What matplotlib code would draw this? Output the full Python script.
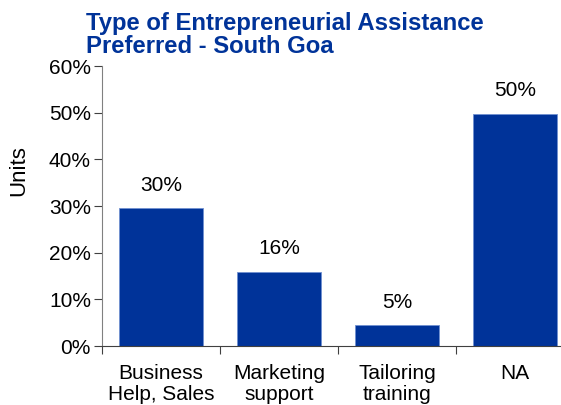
import matplotlib.pyplot as plt
from matplotlib.ticker import FuncFormatter

plt.rcParams['font.family'] = ['Liberation Sans', 'DejaVu Sans']

categories = ['Business\nHelp, Sales', 'Marketing\nsupport', 'Tailoring\ntraining', 'NA']
values = [29.5, 15.9, 4.5, 49.8]
labels = ['30%', '16%', '5%', '50%']

fig = plt.figure(figsize=(5.61, 4.05), dpi=100)
ax = fig.add_axes([102 / 561, 1 - 346 / 405, 472 / 561, 280 / 405])

x = range(len(categories))
ax.bar(x, values, width=0.71, color='#003399', edgecolor='#7090d0', linewidth=0.6)

for i, v in enumerate(values):
    ax.text(i, v + 4.9, labels[i], ha='center', va='center', fontsize=15)

ax.set_ylim(0, 60)
ax.set_xlim(-0.5, 3.5)
ax.set_yticks(range(0, 61, 10))
ax.yaxis.set_major_formatter(FuncFormatter(lambda v, p: '%d%%' % v))

# boundary ticks without labels, category labels on minor ticks
ax.set_xticks([-0.5, 0.5, 1.5, 2.5, 3.5])
ax.set_xticklabels([])
ax.set_xticks(list(x), minor=True)
ax.set_xticklabels(categories, minor=True, fontsize=15, linespacing=1.15)
ax.tick_params(axis='x', which='minor', length=0, pad=13)
ax.tick_params(axis='x', which='major', length=6, color='#404040', direction='out')
ax.tick_params(axis='y', length=6, color='#404040', labelsize=15, pad=2)

for s in ['top', 'right']:
    ax.spines[s].set_visible(False)
ax.spines['left'].set_color('#808080')
ax.spines['bottom'].set_color('#404040')

fig.text(19 / 561, 1 - 171 / 405, 'Units', rotation=90, ha='center', va='center', fontsize=16)
fig.text(86 / 561, 1 - 12 / 405, 'Type of Entrepreneurial Assistance\nPreferred - South Goa',
         ha='left', va='top', fontsize=17.2, fontweight='bold', color='#003399', linespacing=1.0)

fig.savefig('out.png', dpi=100)
